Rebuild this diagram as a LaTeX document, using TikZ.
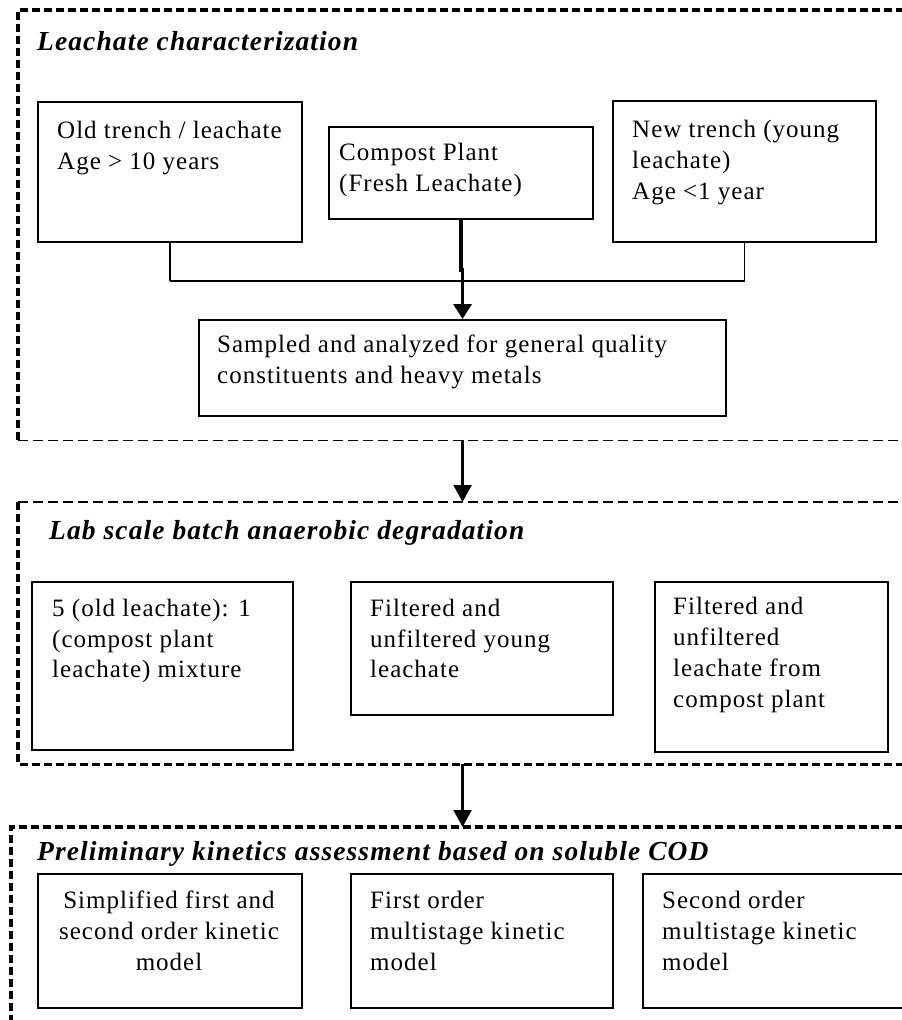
\documentclass[tikz,border=0pt]{standalone}
\usepackage{fontspec}
\setmainfont{Liberation Serif}[LetterSpace=4]
\usetikzlibrary{arrows.meta}
\begin{document}
\begin{tikzpicture}[x=1pt,y=-1pt,
  frame/.style={inner sep=0pt, anchor=north west},
  thickdash/.style={line width=3.2pt, dash pattern=on 8pt off 4pt},
  thindash/.style={line width=1.5pt, dash pattern=on 10pt off 5pt},
  box/.style={draw, line width=2.1pt, inner sep=0pt, anchor=north west},
  txt/.style={anchor=base west, inner sep=0pt, font=\fontsize{25}{31}\selectfont},
  ctxt/.style={anchor=base, inner sep=0pt, font=\fontsize{25}{31}\selectfont},
  ttl/.style={anchor=base west, inner sep=0pt, font=\fontsize{27.5}{30}\selectfont\bfseries\itshape},
  thinline/.style={line width=1.6pt},
  midline/.style={line width=2.6pt},
  thickline/.style={line width=3.2pt},
  arr/.style={line width=2.2pt, -{Triangle[length=17pt,width=18pt]}}]
\useasboundingbox (0,0) rectangle (902,1020);
\clip (0,0) rectangle (902,1020);
\fill[white] (0,0) rectangle (902,1020);

% frames
\node[frame, minimum width=912pt, minimum height=430pt] (F1) at (18,10) {};
\node[frame, minimum width=912pt, minimum height=262pt] (F2) at (18,502) {};
\node[frame, minimum width=920pt, minimum height=220pt] (F3) at (11,827) {};
\draw[thickdash] (F1.south west) -- (F1.north west) -- (F1.north east);
\draw[thindash] (F1.south west) -- (F1.south east);
\draw[thindash] (F2.north west) -- (F2.north east);
\draw[thickdash] (F2.north west) -- (F2.south west) -- (F2.south east);
\draw[thickdash] (F3.south west) -- (F3.north west) -- (F3.north east);

% titles
\node[ttl] (T1) at (37,50) {Leachate characterization};
\node[ttl] (T2) at (49,539) {Lab scale batch anaerobic degradation};
\node[ttl] (T3) at (37,860) {Preliminary kinetics assessment based on soluble COD};

% boxes, section 1
\node[box, minimum width=264pt, minimum height=140pt] (A) at (37,101) {};
\node[box, minimum width=264pt, minimum height=92pt] (B) at (328,126) {};
\node[box, minimum width=263pt, minimum height=141pt] (C) at (612,100) {};
\node[box, minimum width=527pt, minimum height=96pt] (D) at (198,319) {};
\node[txt] (A1) at (57,138) {Old trench / leachate};
\node[txt] (A2) at (57,169) {Age > 10 years};
\node[txt] (B1) at (339,160) {Compost Plant};
\node[txt] (B2) at (339,191) {(Fresh Leachate)};
\node[txt] (C1) at (632,137) {New trench (young};
\node[txt] (C2) at (632,168) {leachate)};
\node[txt] (C3) at (632,199) {Age <1 year};
\node[txt] (D1) at (217,352) {Sampled and analyzed for general quality};
\node[txt] (D2) at (217,383) {constituents and heavy metals};

% boxes, section 2
\node[box, minimum width=261pt, minimum height=168pt] (E) at (31,581) {};
\node[box, minimum width=262pt, minimum height=133pt] (F) at (350,581) {};
\node[box, minimum width=233pt, minimum height=170pt] (G) at (654,581) {};
\node[txt] (E1) at (52,616) {5 (old leachate): 1};
\node[txt] (E2) at (52,647) {(compost plant};
\node[txt] (E3) at (52,677) {leachate) mixture};
\node[txt] (Fa) at (370,616) {Filtered and};
\node[txt] (Fb) at (370,647) {unfiltered young};
\node[txt] (Fc) at (370,677) {leachate};
\node[txt] (G1) at (673,614) {Filtered and};
\node[txt] (G2) at (673,645) {unfiltered};
\node[txt] (G3) at (673,676) {leachate from};
\node[txt] (G4) at (673,707) {compost plant};

% boxes, section 3
\node[box, minimum width=264pt, minimum height=134pt] (H) at (37,873) {};
\node[box, minimum width=262pt, minimum height=134pt] (I) at (350,873) {};
\node[box, minimum width=300pt, minimum height=134pt] (J) at (642,873) {};
\node[ctxt] (H1) at (169,908) {Simplified first and};
\node[ctxt] (H2) at (169,939) {second order kinetic};
\node[ctxt] (H3) at (169,970) {model};
\node[txt] (I1) at (370,908) {First order};
\node[txt] (I2) at (370,939) {multistage kinetic};
\node[txt] (I3) at (370,970) {model};
\node[txt] (J1) at (662,908) {Second order};
\node[txt] (J2) at (662,939) {multistage kinetic};
\node[txt] (J3) at (662,970) {model};

% connectors
\coordinate (jy) at (0,281);
\coordinate (jog) at (0,270);
\draw[thinline] (A.south) -- (A.south |- jy);
\draw[midline] (A.south |- jy) -- (C.south |- jy);
\draw[thinline] (C.south |- jy) -- (C.south);
\draw[thickline, -{Triangle[length=15pt,width=18pt]}] (B.south) -- (B.south |- jog) -- (D.north |- jog) -- (D.north);
\draw[arr] (D.south |- F1.south) -- (D.south |- F2.north);
\draw[arr] (D.south |- F2.south) -- (D.south |- F3.north);
\end{tikzpicture}
\end{document}
